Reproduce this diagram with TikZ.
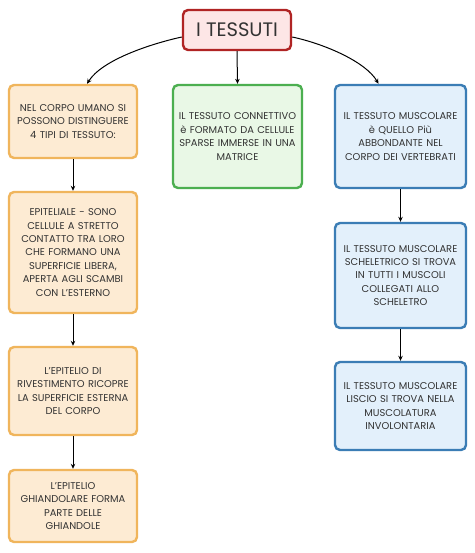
\documentclass[tikz,border=0pt]{standalone}
\usepackage{fontspec}
\setmainfont{Poppins}
\usetikzlibrary{arrows.meta}
\definecolor{txt}{HTML}{333333}
\definecolor{orfill}{HTML}{FDEBD3}
\definecolor{ordraw}{HTML}{F0B55C}
\definecolor{grfill}{HTML}{E9F8E6}
\definecolor{grdraw}{HTML}{4CAF50}
\definecolor{blfill}{HTML}{E3F0FB}
\definecolor{bldraw}{HTML}{3B7DB5}
\definecolor{rdfill}{HTML}{FDE6E6}
\definecolor{rddraw}{HTML}{B02424}
\tikzset{
  box/.style={rectangle, rounded corners=5pt, line width=2.4pt, align=center,
    text=txt, font=\fontsize{9.9}{13.4}\selectfont, inner sep=1pt},
  orbox/.style={box, fill=orfill, draw=ordraw, minimum width=128pt, text width=126pt},
  grbox/.style={box, fill=grfill, draw=grdraw, minimum width=129pt, text width=127pt},
  blbox/.style={box, fill=blfill, draw=bldraw, minimum width=131pt, text width=129pt},
  titlebox/.style={box, fill=rdfill, draw=rddraw, minimum width=108pt, minimum height=40pt,
    font=\fontsize{19.5}{22}\selectfont},
  conn/.style={draw=black, line width=1pt, -{Stealth[length=5pt,width=4.5pt]}}
}
\begin{document}
\begin{tikzpicture}[x=1pt,y=-1pt]
\useasboundingbox (0,0) rectangle (474,553);
\fill[white] (0,0) rectangle (474,553);
\node[titlebox] (t) at (237,30) {I TESSUTI};
\node[orbox, minimum height=73pt] (l1) at (73,121.5) {NEL CORPO UMANO SI\\POSSONO DISTINGUERE\\4 TIPI DI TESSUTO:};
\node[orbox, minimum height=121pt] (l2) at (73,252.5) {EPITELIALE - SONO\\CELLULE A STRETTO\\CONTATTO TRA LORO\\CHE FORMANO UNA\\SUPERFICIE LIBERA,\\APERTA AGLI SCAMBI\\CON L'ESTERNO};
\node[orbox, minimum height=88pt] (l3) at (73,391) {L'EPITELIO DI\\RIVESTIMENTO RICOPRE\\LA SUPERFICIE ESTERNA\\DEL CORPO};
\node[orbox, minimum height=72pt] (l4) at (73,506) {L'EPITELIO\\GHIANDOLARE FORMA\\PARTE DELLE\\GHIANDOLE};
\node[grbox, minimum height=103pt] (g) at (237.5,136.5) {IL TESSUTO CONNETTIVO\\è FORMATO DA CELLULE\\SPARSE IMMERSE IN UNA\\MATRICE};
\node[blbox, minimum height=103pt] (r1) at (400.5,136.5) {IL TESSUTO MUSCOLARE\\è QUELLO Più\\ABBONDANTE NEL\\CORPO DEI VERTEBRATI};
\node[blbox, minimum height=105pt] (r2) at (400.5,275.5) {IL TESSUTO MUSCOLARE\\SCHELETRICO SI TROVA\\IN TUTTI I MUSCOLI\\COLLEGATI ALLO\\SCHELETRO};
\node[blbox, minimum height=88pt] (r3) at (400.5,406) {IL TESSUTO MUSCOLARE\\LISCIO SI TROVA NELLA\\MUSCOLATURA\\INVOLONTARIA};
\draw[conn] ([yshift=-7pt]t.west) .. controls (150,44) and (102,60) .. ([xshift=14pt]l1.north);
\draw[conn] ([yshift=-7pt]t.east) .. controls (325,44) and (366,62) .. ([xshift=-22pt]r1.north);
\draw[conn] (t.south) -- (g.north);
\draw[conn] (l1) -- (l2);
\draw[conn] (l2) -- (l3);
\draw[conn] (l3) -- (l4);
\draw[conn] (r1) -- (r2);
\draw[conn] (r2) -- (r3);
\end{tikzpicture}
\end{document}
